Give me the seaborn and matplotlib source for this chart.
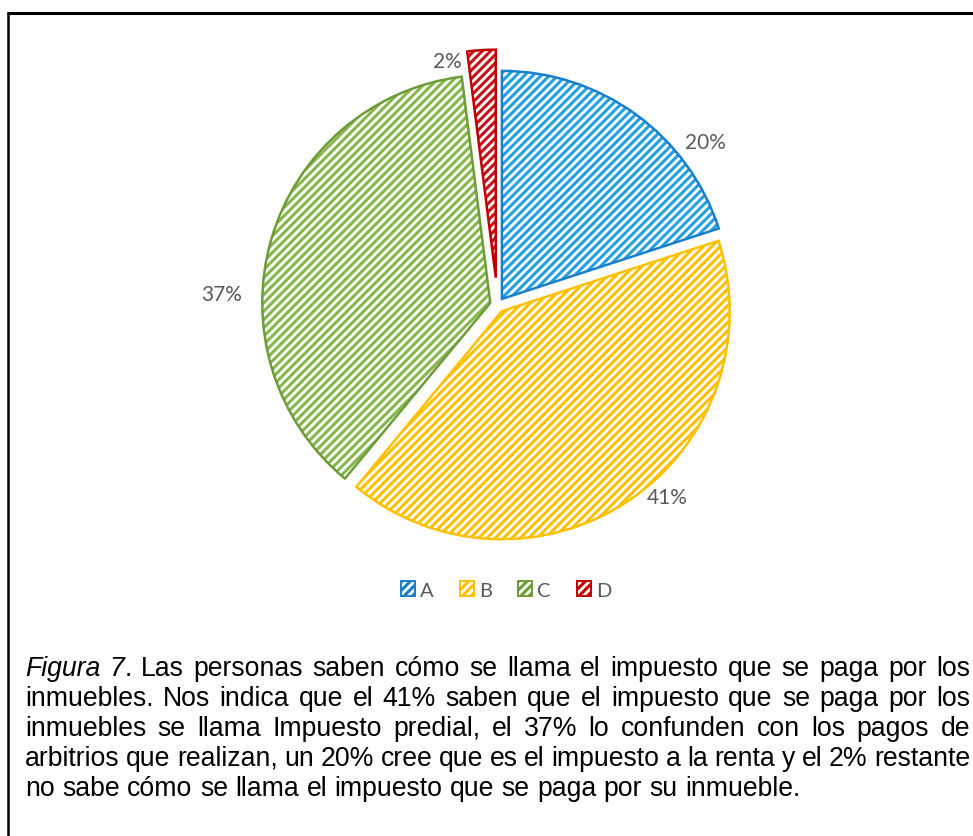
import numpy as np
import pandas as pd
import matplotlib
matplotlib.use("Agg")
import matplotlib.pyplot as plt
import seaborn as sns
from matplotlib.lines import Line2D

# ---------------- data ----------------
categories = ["A", "B", "C", "D"]
values = [20, 41, 37, 2]
pct_labels = ["20%", "41%", "37%", "2%"]
edge_colors = ["#1A7FCB", "#FFC000", "#6E9C38", "#C00000"]
stripe_colors = ["#22A0E4", "#FFC000", "#84B84A", "#C8101A"]
explode = [0.033, 0.033, 0.033, 0.12]
label_pos = [(0.914, 0.715), (0.743, -0.842), (-1.208, 0.048), (-0.221, 1.070)]

caption_lines = [
    [[("Figura", "italic")], [("7", "italic"), (".", "normal")], "Las", "personas", "saben",
     "cómo", "se", "llama", "el", "impuesto", "que", "se", "paga", "por", "los"],
    "inmuebles. Nos indica que el 41% saben que el impuesto que se paga por los".split(),
    "inmuebles se llama Impuesto predial, el 37% lo confunden con los pagos de".split(),
    "arbitrios que realizan, un 20% cree que es el impuesto a la renta y el 2% restante".split(),
    "no sabe cómo se llama el impuesto que se paga por su inmueble.".split(),
]
justify = [True, True, True, True, False]

# ---------------- style ----------------
sns.set_theme(style="white")
plt.rcParams["font.family"] = ["Lato", "DejaVu Sans"]
plt.rcParams["hatch.linewidth"] = 2.2

W, H = 973, 837
fig = plt.figure(figsize=(W / 100, H / 100), dpi=100)
fig.patch.set_facecolor("white")

# pie axes: centre (497.5, 306) px, radius 228 px
R = 228
L = 1.25
S = 2 * L * R
cx, cy = 497.5, 306
ax = fig.add_axes([(cx - S / 2) / W, (H - cy - S / 2) / H, S / W, S / H])
df = pd.DataFrame({"cat": categories, "val": values})

# hatched fill (stripes)
wedges, _ = ax.pie(df["val"], explode=explode, startangle=90, counterclock=False,
                   colors=["white"] * len(values),
                   wedgeprops=dict(linewidth=0))
for w, c in zip(wedges, stripe_colors):
    w.set_edgecolor(c)
    w.set_linewidth(0)
    w.set_hatch("////")
# outlines
outl, _ = ax.pie(df["val"], explode=explode, startangle=90, counterclock=False,
                 colors=["none"] * len(values),
                 wedgeprops=dict(linewidth=1.8, fill=False))
for w, c in zip(outl, edge_colors):
    w.set_edgecolor(c)

ax.set_xlim(-L, L)
ax.set_ylim(-L, L)
ax.set_aspect("equal")
ax.axis("off")

for (x, y), lab in zip(label_pos, pct_labels):
    ax.text(x, y, lab, ha="center", va="center", fontsize=15, color="#595959")

# legend handles: hatched squares
handles = []
for sc, ec in zip(stripe_colors, edge_colors):
    p = matplotlib.patches.Rectangle((0, 0), 1, 1, facecolor="white", edgecolor=ec,
                                     hatch="////", linewidth=1.4)
    handles.append(p)
leg = fig.legend(handles, categories, loc="center", bbox_to_anchor=(506 / W, 1 - 591 / H),
                 ncol=4, frameon=False, fontsize=14.5, handlelength=0.7, handleheight=0.7,
                 handletextpad=0.25, columnspacing=1.3, labelcolor="#595959")

# ---------------- border ----------------
fig.add_artist(Line2D([7 / W, 1.0], [1 - 13.5 / H, 1 - 13.5 / H], color="black", lw=2.2,
                      transform=fig.transFigure, solid_capstyle="butt"))
fig.add_artist(Line2D([8 / W, 8 / W], [0, 1 - 12.5 / H], color="black", lw=1.8,
                      transform=fig.transFigure, solid_capstyle="butt"))

# ---------------- caption (justified) ----------------
renderer = fig.canvas.get_renderer()
FAM = "Liberation Sans"


def measure(s, style, size):
    t = fig.text(0, 0, s, fontsize=size, style=style, family=FAM)
    w = t.get_window_extent(renderer).width
    t.remove()
    return w


def runs_of(word):
    return word if isinstance(word, list) else [(word, "normal")]


def word_width(word, size):
    return sum(measure(s, st, size) for s, st in runs_of(word))


# size so the last (unjustified) line spans ~777 px
ref = 16
last_w = measure(" ".join(caption_lines[-1]), "normal", ref)
fsize = ref * 777 / last_w
space_w = measure("a a", "normal", fsize) - measure("aa", "normal", fsize)

left, right = 25, 970
base0, step = 676, 30
for i, (words, just) in enumerate(zip(caption_lines, justify)):
    widths = [word_width(w, fsize) for w in words]
    if just:
        gap = (right - left - sum(widths)) / (len(words) - 1)
    else:
        gap = space_w
    x = left
    yb = 1 - (base0 + i * step) / H
    for w, ww in zip(words, widths):
        xr = x
        for s, st in runs_of(w):
            fig.text(xr / W, yb, s, fontsize=fsize, style=st, family=FAM,
                     color="black", ha="left", va="baseline")
            xr += measure(s, st, fsize)
        x += ww + gap

fig.savefig("out.png", dpi=100, facecolor="white")
